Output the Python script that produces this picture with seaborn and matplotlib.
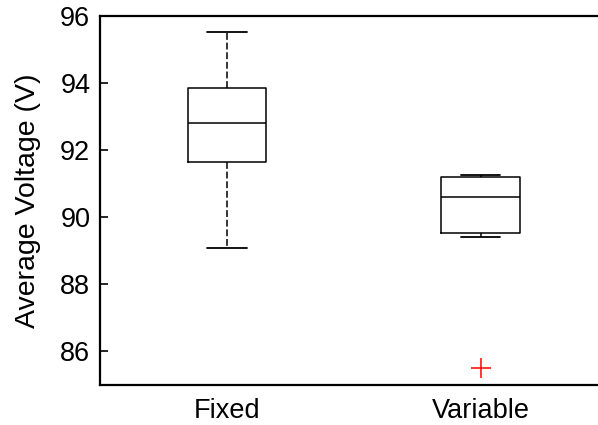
import numpy as np
import pandas as pd
import seaborn as sns
import matplotlib
matplotlib.use("Agg")
import matplotlib.pyplot as plt

# values
groups = ["Fixed", "Variable"]
fixed_v = [89.07, 91.65, 92.8, 93.85, 95.52]
variable_v = [85.52, 89.4, 89.64, 90.6, 91.16, 91.24, 91.26]
y_ticks = [86, 88, 90, 92, 94, 96]

df = pd.DataFrame({
    "group": [groups[0]] * len(fixed_v) + [groups[1]] * len(variable_v),
    "voltage": fixed_v + variable_v,
})

sns.set_style("white")
plt.rcParams["font.family"] = ["Liberation Sans", "DejaVu Sans"]
plt.rcParams["text.color"] = "black"
plt.rcParams["axes.labelcolor"] = "black"
plt.rcParams["xtick.color"] = "black"
plt.rcParams["ytick.color"] = "black"

fig = plt.figure(figsize=(5.98, 4.25), dpi=100)
ax = fig.add_axes([100 / 598, 1 - 385 / 425, 498 / 598, 369 / 425])

sns.boxplot(data=df, x="group", y="voltage", order=groups, ax=ax,
            width=0.31, whis=1.5, fill=False, color="black", linecolor="black",
            linewidth=1.1,
            whiskerprops=dict(linestyle="--", linewidth=1.1, dashes=(4.5, 1.8)),
            capprops=dict(linewidth=1.3),
            medianprops=dict(color="black", linewidth=1.1),
            flierprops=dict(marker="+", markeredgecolor="red", markersize=14,
                            markeredgewidth=1.1))

ax.set_xlim(0.5 - 1, 2.462 - 1)
ax.set_ylim(85, 96)
ax.set_yticks(y_ticks)
ax.set_xlabel("")
ax.set_ylabel("Average Voltage (V)", fontsize=20.5, labelpad=14)
ax.tick_params(axis="y", direction="in", length=6, width=1.2, labelsize=19.5,
               pad=7, left=True)
ax.tick_params(axis="x", length=0, labelsize=19.5, pad=9)

for side in ["left", "top", "bottom"]:
    ax.spines[side].set_linewidth(1.6)
    ax.spines[side].set_color("black")
ax.spines["right"].set_visible(False)

fig.savefig("out.png", dpi=100)
